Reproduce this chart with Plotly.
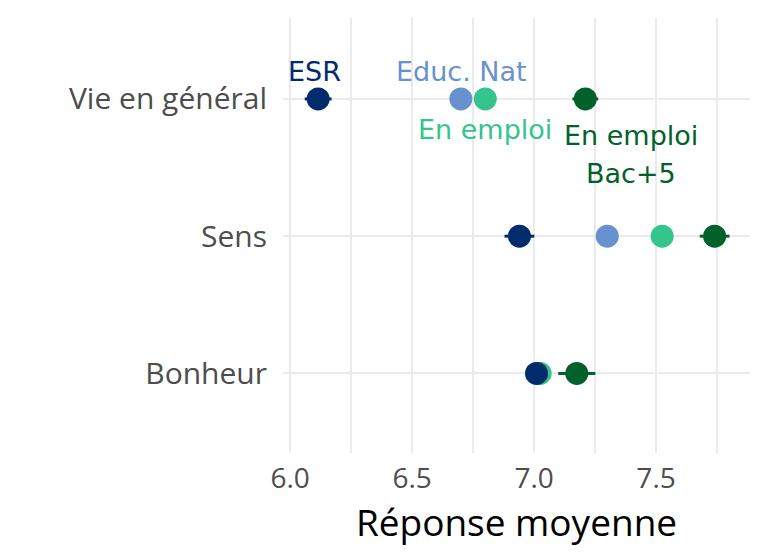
import plotly.graph_objects as go

# categories (bottom to top)
CATEGORIES = ["Bonheur", "Sens", "Vie en général"]

GROUPS = ["Educ. Nat", "En emploi", "En emploi Bac+5", "ESR"]
COLORS = {"ESR": "#022b6b", "Educ. Nat": "#6892cf",
          "En emploi": "#35c48c", "En emploi Bac+5": "#02612b"}

# mean answer per category (Bonheur, Sens, Vie en général)
esr_mean = [7.01, 6.94, 6.115]
esr_err = [0.03, 0.061, 0.055]
educ_mean = [7.02, 7.30, 6.70]
educ_err = [0.0, 0.0, 0.0]
emploi_mean = [7.025, 7.525, 6.80]
emploi_err = [0.0, 0.0, 0.0]
bac5_mean = [7.175, 7.74, 7.21]
bac5_err = [0.076, 0.061, 0.053]

MEANS = {"ESR": esr_mean, "Educ. Nat": educ_mean,
         "En emploi": emploi_mean, "En emploi Bac+5": bac5_mean}
ERRS = {"ESR": esr_err, "Educ. Nat": educ_err,
        "En emploi": emploi_err, "En emploi Bac+5": bac5_err}

# direct labels: group, text, x value, pixel offset from the top row
LABELS = [("ESR", "ESR", 6.10, 27),
          ("Educ. Nat", "Educ. Nat", 6.703, 27),
          ("En emploi", "En emploi", 6.80, -31),
          ("En emploi Bac+5", "En emploi", 7.397, -37),
          ("En emploi Bac+5", "Bac+5", 7.397, -75)]

fig = go.Figure()
for g in GROUPS:
    fig.add_trace(go.Scatter(
        x=MEANS[g], y=CATEGORIES, mode="markers", name=g,
        marker=dict(color=COLORS[g], size=23),
        error_x=dict(type="data", array=ERRS[g], color=COLORS[g],
                     thickness=3, width=0),
        showlegend=False))

for g, txt, xv, shift in LABELS:
    fig.add_annotation(x=xv, y="Vie en général", text=txt, showarrow=False,
                       yshift=shift, font=dict(family="DejaVu Sans", size=27,
                                                color=COLORS[g]))

fig.update_xaxes(range=[5.971, 7.885], tickvals=[6.0, 6.5, 7.0, 7.5],
                 ticktext=["6.0", "6.5", "7.0", "7.5"],
                 showgrid=True, gridcolor="#ebebeb", gridwidth=2,
                 minor=dict(dtick=0.25, tick0=6.0, showgrid=True,
                            gridcolor="#ebebeb", gridwidth=1.5),
                 zeroline=False, showline=False, ticks="",
                 ticklabelstandoff=6,
                 tickfont=dict(family="Open Sans", size=28, color="#4d4d4d"),
                 title=dict(text="Réponse moyenne", standoff=0,
                            font=dict(family="Open Sans", size=37, color="#000000")))
fig.update_yaxes(type="category", categoryorder="array", categoryarray=CATEGORIES,
                 range=[-0.58, 2.59], showgrid=True, gridcolor="#ebebeb",
                 gridwidth=2, zeroline=False, showline=False, ticks="",
                 ticklabelstandoff=15,
                 tickfont=dict(family="Open Sans", size=30, color="#4d4d4d"))

# the page body adds 8px around the figure, margins make up for it
fig.update_layout(width=768, height=558, plot_bgcolor="white",
                  paper_bgcolor="white",
                  margin=dict(l=275, r=26, t=10, b=113))

fig.write_html("out.html")
